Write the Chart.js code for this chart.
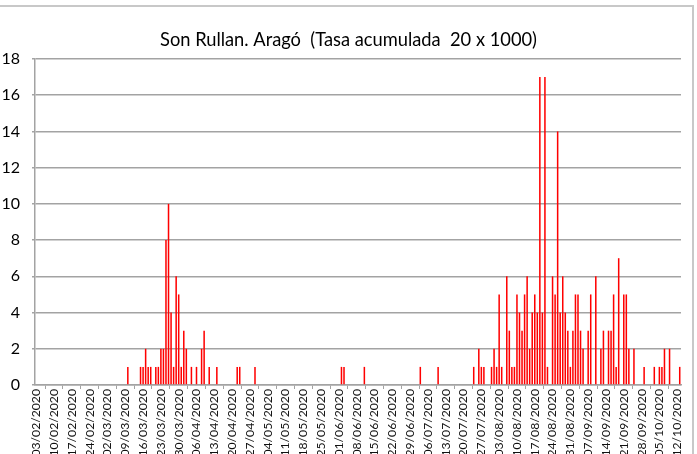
<!DOCTYPE html>
<html><head><meta charset="utf-8">
<script src="https://cdn.jsdelivr.net/npm/chart.js@4/dist/chart.umd.min.js"></script>
<style>
html,body{margin:0;padding:0;background:#fff;overflow:hidden;}
#wrap{position:relative;width:697px;height:454px;overflow:hidden;}
#frame{position:absolute;left:-4px;top:5px;width:698px;height:470px;border-top:2px solid #c8c8c8;border-right:2px solid #c8c8c8;box-sizing:border-box;pointer-events:none;}
canvas{position:absolute;left:0;top:0;}
</style></head><body>
<div id="wrap"><canvas id="c" width="697" height="454"></canvas><div id="frame"></div></div>
<script>
// Chart title
const titleText = 'Son Rullan. Aragó  (Tasa acumulada  20 x 1000)';
// First day of the daily series and number of days (03/02/2020 .. 13/10/2020)
const firstDay = [2020, 2, 3];
const dayCount = 254;
// Daily values, one row per week starting on the labelled day
const values = [
  0,0,0,0,0,0,0,      // 03/02
  0,0,0,0,0,0,0,      // 10/02
  0,0,0,0,0,0,0,      // 17/02
  0,0,0,0,0,0,0,      // 24/02
  0,0,0,0,0,0,0,      // 02/03
  0,1,0,0,0,0,1,      // 09/03
  1,2,1,1,0,1,1,      // 16/03
  2,2,8,10,4,1,6,     // 23/03
  5,1,3,2,0,1,0,      // 30/03
  1,0,2,3,0,1,0,      // 06/04
  0,1,0,0,0,0,0,      // 13/04
  0,0,1,1,0,0,0,      // 20/04
  0,0,1,0,0,0,0,      // 27/04
  0,0,0,0,0,0,0,      // 04/05
  0,0,0,0,0,0,0,      // 11/05
  0,0,0,0,0,0,0,      // 18/05
  0,0,0,0,0,0,0,      // 25/05
  0,1,1,0,0,0,0,      // 01/06
  0,0,0,1,0,0,0,      // 08/06
  0,0,0,0,0,0,0,      // 15/06
  0,0,0,0,0,0,0,      // 22/06
  0,0,0,0,1,0,0,      // 29/06
  0,0,0,0,1,0,0,      // 06/07
  0,0,0,0,0,0,0,      // 13/07
  0,0,0,0,1,0,2,      // 20/07
  1,1,0,0,1,2,1,      // 27/07
  5,1,0,6,3,1,1,      // 03/08
  5,4,3,5,6,2,4,      // 10/08
  5,4,17,4,17,1,0,    // 17/08
  6,5,14,4,6,4,3,     // 24/08
  1,3,5,5,3,2,0,      // 31/08
  3,5,0,6,0,2,3,      // 07/09
  0,3,3,5,1,7,0,      // 14/09
  5,5,2,0,2,0,0,      // 21/09
  0,1,0,0,0,1,0,      // 28/09
  1,1,2,0,2,0,0,      // 05/10
  0,1                 // 12/10
];
const yTicks = [0,2,4,6,8,10,12,14,16,18];
const labelEvery = 7;

function pad(n){return (n<10?'0':'')+n;}
const categories = [];
for (let i = 0; i < dayCount; i++) {
  const d = new Date(Date.UTC(firstDay[0], firstDay[1]-1, firstDay[2] + i));
  categories.push(pad(d.getUTCDate())+'/'+pad(d.getUTCMonth()+1)+'/'+d.getUTCFullYear());
}

const gridGray = '#a3a3a3';
new Chart(document.getElementById('c'), {
  type: 'bar',
  data: {
    labels: categories,
    datasets: [{
      data: values,
      backgroundColor: '#ff0000',
      borderWidth: 0,
      barPercentage: 0.6,
      categoryPercentage: 1
    }]
  },
  options: {
    responsive: false,
    animation: false,
    events: [],
    layout: {padding: {left: 0, right: 0, top: 0, bottom: 0}},
    plugins: {
      legend: {display: false},
      tooltip: {enabled: false},
      title: {
        display: true, text: titleText, color: '#000',
        font: {family: 'Lato', size: 18.3, weight: 'normal'},
        padding: {top: 29, bottom: 8}
      }
    },
    scales: {
      x: {
        type: 'category',
        offset: true,
        grid: {display: true, drawOnChartArea: false, drawTicks: true, tickLength: 4, color: gridGray, lineWidth: 1, offset: true},
        border: {display: true, color: gridGray, width: 1.5},
        ticks: {
          autoSkip: false, maxRotation: 90, minRotation: 90, padding: 0,
          color: '#111', font: {family: 'Lato', size: 12.2},
          callback: (v, i) => (i % labelEvery === 0 ? categories[i] : null)
        },
        afterFit: (s) => { s.height = 69; }
      },
      y: {
        min: yTicks[0], max: yTicks[yTicks.length-1],
        afterBuildTicks: (s) => { s.ticks = yTicks.map(v => ({value: v})); },
        grid: {color: gridGray, lineWidth: 1.5, tickLength: 3, drawTicks: true},
        border: {display: true, color: gridGray, width: 1.5},
        ticks: {color: '#000', padding: 12, font: {family: 'Lato', size: 16}},
        afterFit: (s) => { s.width = 35; }
      },
      yRightSpace: {
        type: 'linear', position: 'right', min: 0, max: 1,
        grid: {display: false, drawOnChartArea: false},
        border: {display: false},
        ticks: {display: false},
        afterFit: (s) => { s.width = 16; }
      }
    }
  }
});
</script>
</body></html>
